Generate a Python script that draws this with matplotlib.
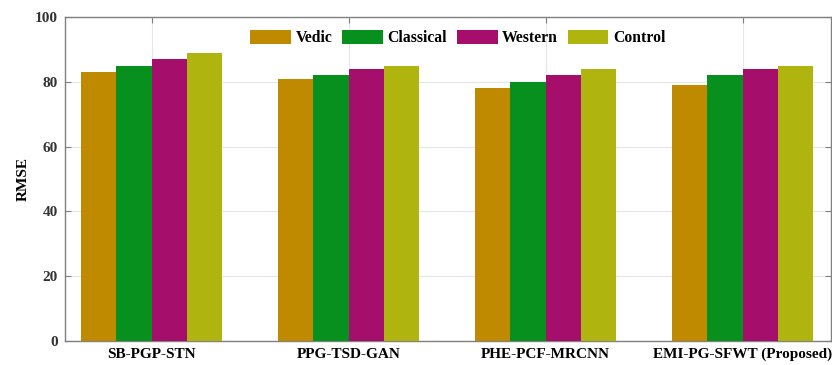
import numpy as np
import matplotlib.pyplot as plt

plt.rcParams['font.family'] = ['Liberation Serif', 'DejaVu Serif']
plt.rcParams['font.weight'] = 'bold'

methods = ['SB-PGP-STN', 'PPG-TSD-GAN', 'PHE-PCF-MRCNN', 'EMI-PG-SFWT (Proposed)']
series = ['Vedic', 'Classical', 'Western', 'Control']
vedic = [83, 81, 78, 79]
classical = [85, 82, 80, 82]
western = [87, 84, 82, 84]
control = [89, 85, 84, 85]
colors = ['#BF8A00', '#08901E', '#A50E6A', '#B0B40E']

data = [vedic, classical, western, control]
x = np.arange(1, len(methods) + 1)
w = 0.18

fig = plt.figure(figsize=(8.32, 3.65), dpi=100)
ax = fig.add_axes([0.078, 0.066, 0.921, 0.887])

for i, (vals, name) in enumerate(zip(data, series)):
    ax.bar(x + (i - 1.5) * w, vals, w, color=colors[i], label=name, zorder=3)

ax.set_xlim(0.56, 4.45)
ax.set_ylim(0, 100)
ax.set_yticks(np.arange(0, 101, 20))
ax.set_xticks(x)
ax.set_xticklabels(methods, fontsize=11, fontweight='bold')
ax.tick_params(axis='y', labelsize=11)
ax.tick_params(direction='in', top=True, right=True, length=4, color='#808080', pad=5)
for lbl in ax.get_yticklabels():
    lbl.set_color('#333333')
ax.set_ylabel('RMSE', fontsize=11, fontweight='bold')
ax.grid(True, color='#E6E6E6', linewidth=0.8, zorder=0)
for sp in ax.spines.values():
    sp.set_color('#808080')
    sp.set_linewidth(1.0)

ax.legend(loc='upper center', bbox_to_anchor=(0.513, 1.005), ncol=4, frameon=False,
          handlelength=2.6, handleheight=1.0, handletextpad=0.3,
          columnspacing=0.6, prop={'weight': 'bold', 'size': 11.3})

fig.savefig('out.png', dpi=100)
